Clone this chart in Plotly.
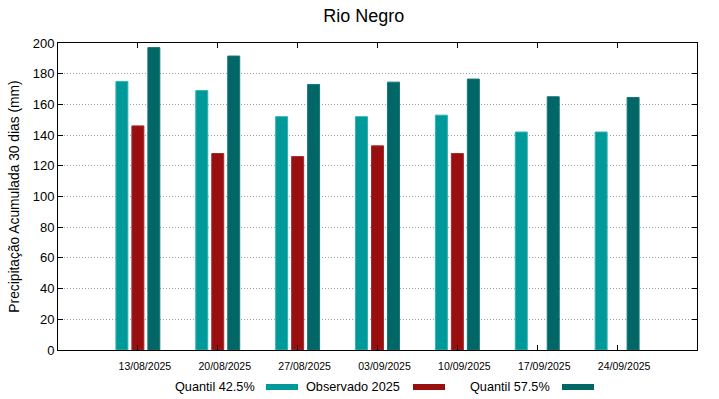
import plotly.graph_objects as go

dates = ["13/08/2025", "20/08/2025", "27/08/2025", "03/09/2025", "10/09/2025", "17/09/2025", "24/09/2025"]
q425 = [175, 169, 152, 152, 153, 142, 142]
obs2025 = [146, 128, 126, 133, 128, None, None]
q575 = [197, 191.5, 173, 174.5, 176.5, 165, 164.5]

names = ["Quantil 42.5%", "Observado 2025", "Quantil 57.5%"]
colors = ["#009999", "#990f0f", "#006666"]
edges = ["#33b3b3", "#a52a2a", "#1a7575"]
series = [q425, obs2025, q575]

font = "Liberation Sans, Arial, sans-serif"
fig = go.Figure()
for nm, vals, c, e in zip(names, series, colors, edges):
    fig.add_trace(go.Bar(x=dates, y=vals, name=nm, marker=dict(color=c, line=dict(color=e, width=1)),
                         showlegend=False))

fig.update_layout(
    width=719, height=399,
    margin=dict(l=58, r=22, t=43, b=49),
    paper_bgcolor="white", plot_bgcolor="white",
    barmode="group", bargap=0.4, bargroupgap=0.25,
    font=dict(family=font, size=13, color="black"),
    title=dict(text="Rio Negro", x=0.506, xanchor="center", y=0.96, yanchor="middle",
               font=dict(size=18, family=font, color="black")),
)
fig.update_xaxes(type="category", range=[-1, 7], showline=True, linecolor="black", linewidth=1,
                 mirror="ticks", ticks="inside", ticklen=5, tickcolor="black", showgrid=False,
                 tickfont=dict(size=10.5), ticklabelshift=7, ticklabelstandoff=6)
fig.update_yaxes(range=[0, 200], dtick=20, showline=True, linecolor="black", linewidth=1,
                 mirror="ticks", ticks="inside", ticklen=5, tickcolor="black",
                 showgrid=True, gridcolor="#a0a0a0", griddash="1px,2px", gridwidth=1, zeroline=False,
                 tickfont=dict(size=13),
                 title=dict(text="Precipitação Acumulada 30 dias (mm)", font=dict(size=13.8), standoff=9))

# legend (text followed by swatch, gnuplot style)
leg = [(257, 266, 298), (402, 413, 445), (552, 562, 594)]
W, H = 719, 399
for (tx, sx0, sx1), nm, c in zip(leg, names, colors):
    fig.add_annotation(xref="paper", yref="paper", x=(tx - 58) / (W - 80), y=-(387 - 350) / (H - 92),
                       text=nm, showarrow=False, xanchor="right", yanchor="middle",
                       font=dict(size=12.7, family=font))
    fig.add_shape(type="rect", xref="paper", yref="paper",
                  x0=(sx0 - 58) / (W - 80), x1=(sx1 - 58) / (W - 80),
                  y0=-(390 - 350) / (H - 92), y1=-(384 - 350) / (H - 92),
                  fillcolor=c, line=dict(width=0))

fig.write_html("out.html", config={"displayModeBar": False},
               post_script="document.body.style.margin='0';document.body.style.overflow='hidden';")
